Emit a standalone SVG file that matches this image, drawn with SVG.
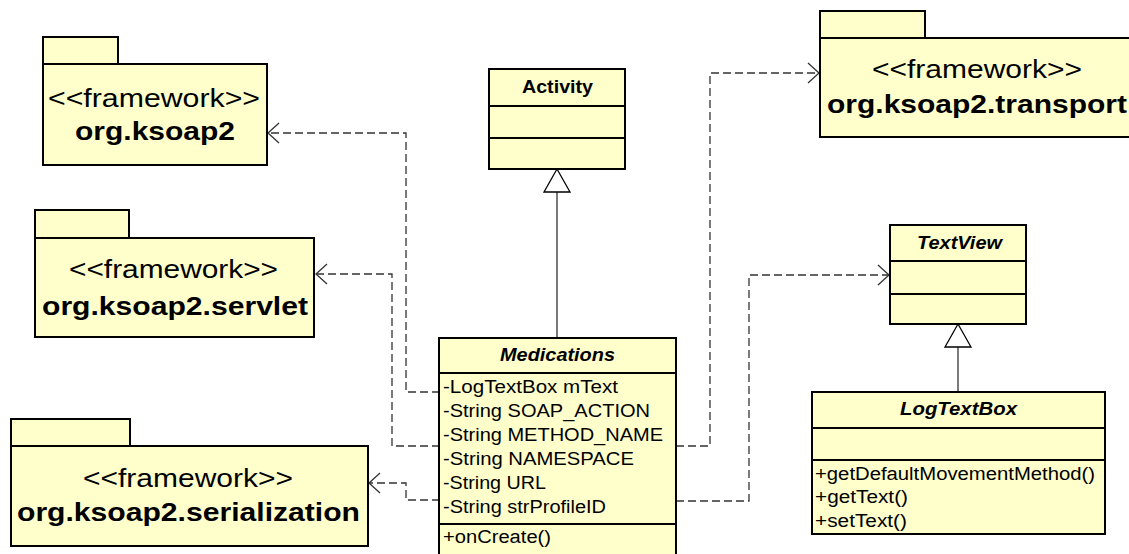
<svg xmlns="http://www.w3.org/2000/svg" width="1129" height="554" viewBox="0 0 1129 554">
<style>
.box{fill:#FFFFCC;stroke:#000;stroke-width:2}
.ln{stroke:#000;stroke-width:2}
.t{font-family:"Liberation Sans",Arial,sans-serif;fill:#000}
.fw{font-size:25px}
.pk{font-size:25px;font-weight:bold}
.cn{font-size:18px;font-weight:bold}
.ci{font-size:18px;font-weight:bold;font-style:italic}
.at{font-size:18px}
.dep{fill:none;stroke:#333;stroke-width:1.3;stroke-dasharray:8,4;marker-end:url(#open)}
.gen{fill:none;stroke:#333;stroke-width:1.3}
.tri{fill:#fff;stroke:#000;stroke-width:1.3}
</style>
<defs>
<marker id="open" markerUnits="userSpaceOnUse" markerWidth="14" markerHeight="24" refX="12" refY="11" orient="auto">
<path d="M1,1 L12,11 L1,21" fill="none" stroke="#333" stroke-width="1.3" stroke-dasharray="none"/>
</marker>
</defs>

<g id="connectors">
<path class="dep" d="M440,392 H406 V133 H268"/>
<path class="dep" d="M440,446 H392 V274 H316"/>
<path class="dep" d="M440,500 H406 V483 H369"/>
<path class="dep" d="M676,446 H710 V73 H819"/>
<path class="dep" d="M676,501 H749 V275 H889"/>
<path class="gen" d="M557,338 V192"/>
<polygon class="tri" points="557,169 570,192 544,192"/>
<path class="gen" d="M958,392 V347"/>
<polygon class="tri" points="958,324 971,347 945,347"/>
</g>

<g id="pkg-ksoap2">
<rect class="box" x="43" y="37" width="75" height="27"/>
<rect class="box" x="43" y="64" width="224" height="101"/>
<text class="t fw" x="48" y="107" textLength="212" lengthAdjust="spacingAndGlyphs">&lt;&lt;framework&gt;&gt;</text>
<text class="t pk" x="75" y="140" textLength="160" lengthAdjust="spacingAndGlyphs">org.ksoap2</text>
</g>

<g id="pkg-servlet">
<rect class="box" x="35" y="210" width="94" height="28"/>
<rect class="box" x="35" y="238" width="279" height="99"/>
<text class="t fw" x="69" y="278" textLength="209" lengthAdjust="spacingAndGlyphs">&lt;&lt;framework&gt;&gt;</text>
<text class="t pk" x="42" y="315" textLength="266" lengthAdjust="spacingAndGlyphs">org.ksoap2.servlet</text>
</g>

<g id="pkg-serialization">
<rect class="box" x="11" y="419" width="119" height="27"/>
<rect class="box" x="11" y="446" width="357" height="100"/>
<text class="t fw" x="83" y="487" textLength="210" lengthAdjust="spacingAndGlyphs">&lt;&lt;framework&gt;&gt;</text>
<text class="t pk" x="17" y="521" textLength="343" lengthAdjust="spacingAndGlyphs">org.ksoap2.serialization</text>
</g>

<g id="pkg-transport">
<rect class="box" x="820" y="11" width="105" height="27"/>
<rect class="box" x="820" y="38" width="314" height="99"/>
<text class="t fw" x="872" y="78" textLength="210" lengthAdjust="spacingAndGlyphs">&lt;&lt;framework&gt;&gt;</text>
<text class="t pk" x="827" y="113" textLength="300" lengthAdjust="spacingAndGlyphs">org.ksoap2.transport</text>
</g>

<g id="cls-activity">
<rect class="box" x="489" y="69" width="136" height="100"/>
<line class="ln" x1="489" y1="106" x2="625" y2="106"/>
<line class="ln" x1="489" y1="138" x2="625" y2="138"/>
<text class="t cn" x="522" y="93" textLength="71" lengthAdjust="spacingAndGlyphs">Activity</text>
</g>

<g id="cls-textview">
<rect class="box" x="890" y="225" width="136" height="99"/>
<line class="ln" x1="890" y1="261" x2="1026" y2="261"/>
<line class="ln" x1="890" y1="294" x2="1026" y2="294"/>
<text class="t ci" x="917" y="249" textLength="85" lengthAdjust="spacingAndGlyphs">TextView</text>
</g>

<g id="cls-medications">
<rect class="box" x="439" y="338" width="237" height="230"/>
<line class="ln" x1="439" y1="373" x2="676" y2="373"/>
<line class="ln" x1="439" y1="524" x2="676" y2="524"/>
<text class="t ci" x="500" y="361" textLength="115" lengthAdjust="spacingAndGlyphs">Medications</text>
<text class="t at" x="443" y="393" textLength="175" lengthAdjust="spacingAndGlyphs">-LogTextBox mText</text>
<text class="t at" x="443" y="417" textLength="207" lengthAdjust="spacingAndGlyphs">-String SOAP_ACTION</text>
<text class="t at" x="443" y="441" textLength="220" lengthAdjust="spacingAndGlyphs">-String METHOD_NAME</text>
<text class="t at" x="443" y="465" textLength="191" lengthAdjust="spacingAndGlyphs">-String NAMESPACE</text>
<text class="t at" x="443" y="489" textLength="103" lengthAdjust="spacingAndGlyphs">-String URL</text>
<text class="t at" x="443" y="513" textLength="163" lengthAdjust="spacingAndGlyphs">-String strProfileID</text>
<text class="t at" x="443" y="543" textLength="108" lengthAdjust="spacingAndGlyphs">+onCreate()</text>
</g>

<g id="cls-logtextbox">
<rect class="box" x="812" y="392" width="293" height="142"/>
<line class="ln" x1="812" y1="428" x2="1105" y2="428"/>
<line class="ln" x1="812" y1="460" x2="1105" y2="460"/>
<text class="t ci" x="900" y="415" textLength="117" lengthAdjust="spacingAndGlyphs">LogTextBox</text>
<text class="t at" x="815" y="480" textLength="280" lengthAdjust="spacingAndGlyphs">+getDefaultMovementMethod()</text>
<text class="t at" x="815" y="503" textLength="93" lengthAdjust="spacingAndGlyphs">+getText()</text>
<text class="t at" x="815" y="527" textLength="92" lengthAdjust="spacingAndGlyphs">+setText()</text>
</g>
</svg>
